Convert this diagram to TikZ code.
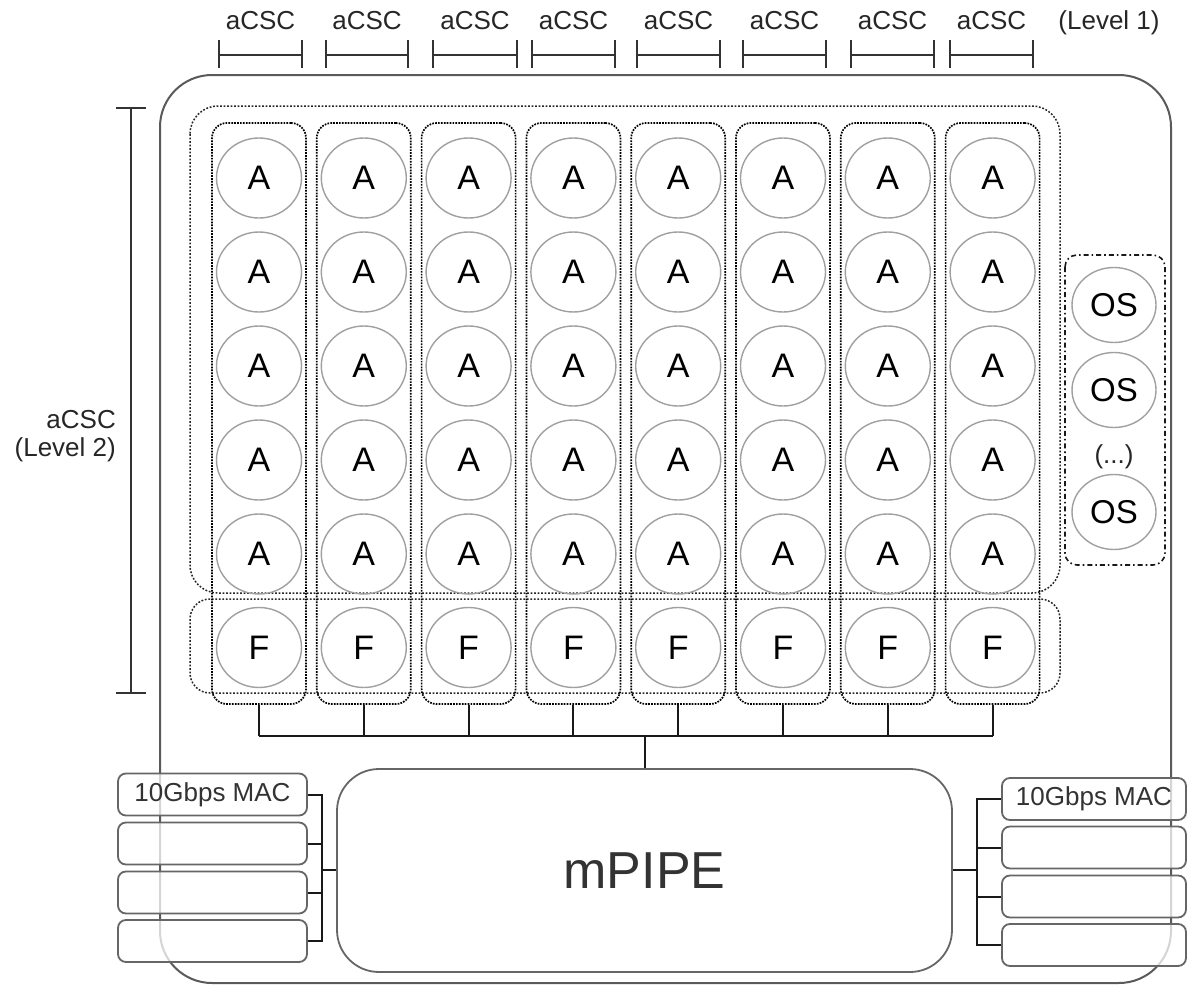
\documentclass[tikz,border=0pt]{standalone}
\usepackage{fontspec}
\setmainfont{Liberation Sans}
\usetikzlibrary{shapes.geometric}
\definecolor{outerc}{HTML}{5A5A5A}
\definecolor{circc}{HTML}{A0A0A0}
\definecolor{macc}{HTML}{666666}
\definecolor{txtc}{HTML}{333333}
\tikzset{
  cell/.style={ellipse, draw=circc, line width=1.4pt, minimum width=85pt, minimum height=80pt, inner sep=0pt, font=\fontsize{34}{36}\selectfont},
  oscell/.style={ellipse, draw=circc, line width=1.4pt, minimum width=84pt, minimum height=75pt, inner sep=0pt, font=\fontsize{33}{36}\selectfont},
  colbox/.style={draw=black, line width=1.7pt, dash pattern=on 1.7pt off 1.2pt, rounded corners=15pt, minimum width=94pt, inner sep=0pt},
  grpbox/.style={draw=black!85, line width=1.5pt, dash pattern=on 1.8pt off 1.7pt, rounded corners=28pt},
  osbox/.style={draw=black!90, line width=1.6pt, dash pattern=on 5pt off 3pt on 1.6pt off 3pt, rounded corners=12pt},
  macbox/.style={draw=macc, line width=1.8pt, rounded corners=8pt, fill=white, fill opacity=0.75, text opacity=1, inner sep=0pt, minimum width=189pt, minimum height=42pt, text=txtc, font=\fontsize{26}{28}\selectfont},
  bus/.style={draw=black!90, line width=2pt},
  bracket/.style={draw=black!80, line width=1.8pt},
  lbl/.style={inner sep=0pt, font=\fontsize{26}{28}\selectfont, text=black!85},
}
\begin{document}
\begin{tikzpicture}[x=1pt,y=-1pt]
\useasboundingbox (0,0) rectangle (1187,985);
\fill[white] (0,0) rectangle (1187,985);
% outer chip
\draw[outerc, line width=2pt, rounded corners=52pt] (160,75) rectangle (1171,983);

% level 1 labels and bars
\foreach \i/\a/\b in {1/219/302,2/326/408,3/433/517,4/532/615,5/637/720,6/743/826,7/851/934,8/950/1033}{
  \node[lbl, anchor=base] (l1t\i) at ({(\a+\b)/2},29) {aCSC};
  \coordinate (l1a\i) at (\a,55);
  \coordinate (l1b\i) at (\b,55);
  \draw[bracket] (l1a\i) -- (l1b\i);
  \draw[bracket] ([yshift=-13pt]l1a\i) -- ([yshift=15pt]l1a\i);
  \draw[bracket] ([yshift=-13pt]l1b\i) -- ([yshift=15pt]l1b\i);
}
\node[lbl, anchor=base] (lev1) at (1109,29) {(Level 1)};

% level 2 bracket
\coordinate (l2a) at (131,108);
\coordinate (l2b) at (131,693);
\draw[bracket] (l2a) -- (l2b);
\draw[bracket] ([xshift=-15pt]l2a) -- ([xshift=15pt]l2a);
\draw[bracket] ([xshift=-15pt]l2b) -- ([xshift=15pt]l2b);
\node[lbl, anchor=east, align=right] (lev2) at (116,436) {aCSC\\(Level 2)};

% group boxes
\draw[grpbox] (190,106) rectangle (1060,593);
\draw[grpbox, rounded corners=20pt] (190,599) rectangle (1060,693);

% columns
\foreach \i in {1,...,8}{
  \pgfmathsetmacro{\cx}{259+(\i-1)*104.8}
  \node[colbox, minimum height=581pt] (col\i) at (\cx,413.5) {};
  \foreach \r/\ry in {1/178,2/272,3/366,4/460,5/554}{
    \node[cell] (a\i\r) at (\cx,\ry) {A};
  }
  \node[cell] (f\i) at (\cx,647.5) {F};
}

% OS column
\draw[osbox] (1065,255) rectangle (1165,565);
\node[oscell] (os1) at (1114,305) {OS};
\node[oscell] (os2) at (1114,390) {OS};
\node[lbl] (dots) at (1114,457) {(...)};
\node[oscell] (os3) at (1114,512) {OS};

% mPIPE
\node[draw=macc, line width=1.8pt, rounded corners=42pt, minimum width=615pt, minimum height=203pt, inner sep=0pt, text=txtc, font=\fontsize{52}{56}\selectfont] (mpipe) at (644.5,870.5) {mPIPE};

% bus
\coordinate (busL) at (259,736);
\coordinate (busR) at ({259+7*104.8},736);
\draw[bus] (busL) -- (busR);
\foreach \i in {1,...,8}{
  \draw[bus] (col\i.south) -- (col\i.south |- busL);
}
\draw[bus] (mpipe.north) -- (mpipe.north |- busL);

% left MACs
\node[macbox] (ml1) at (212.5,794.5) {10Gbps MAC};
\node[macbox] (ml2) at (212.5,843.5) {};
\node[macbox] (ml3) at (212.5,892.5) {};
\node[macbox] (ml4) at (212.5,941) {};
\coordinate (jl) at (322,870);
\draw[bus] (ml1.east) -| (jl);
\draw[bus] (ml4.east) -| (jl);
\draw[bus] (ml2.east) -- (ml2.east -| jl);
\draw[bus] (ml3.east) -- (ml3.east -| jl);
\draw[bus] (jl) -- (mpipe.west |- jl);

% right MACs
\node[macbox, minimum width=184pt] (mr1) at (1094,799) {10Gbps MAC};
\node[macbox, minimum width=184pt] (mr2) at (1094,847.5) {};
\node[macbox, minimum width=184pt] (mr3) at (1094,896.5) {};
\node[macbox, minimum width=184pt] (mr4) at (1094,945) {};
\coordinate (jr) at (977,870);
\draw[bus] (mr1.west) -| (jr);
\draw[bus] (mr4.west) -| (jr);
\draw[bus] (mr2.west) -- (mr2.west -| jr);
\draw[bus] (mr3.west) -- (mr3.west -| jr);
\draw[bus] (jr) -- (mpipe.east |- jr);
\end{tikzpicture}
\end{document}
